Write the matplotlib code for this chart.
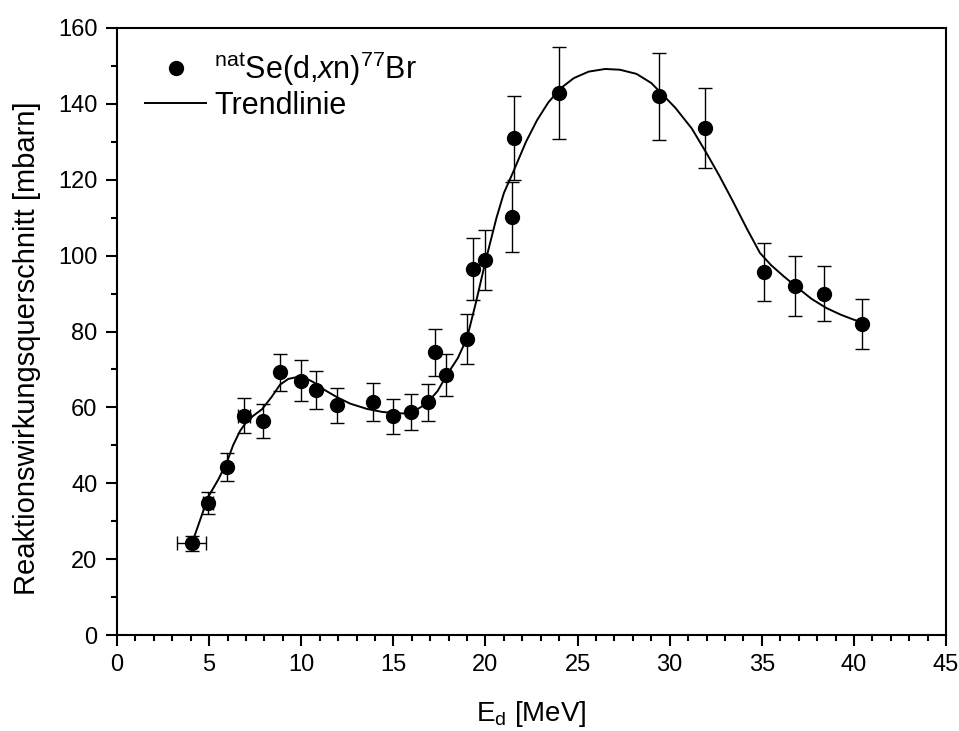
import matplotlib.pyplot as plt
from matplotlib.ticker import MultipleLocator
from matplotlib.lines import Line2D

plt.rcParams['font.family'] = ['Liberation Sans', 'DejaVu Sans']
plt.rcParams['mathtext.fontset'] = 'custom'
plt.rcParams['mathtext.rm'] = 'Liberation Sans'
plt.rcParams['mathtext.it'] = 'Liberation Sans:italic'

# Messpunkte
energie = [4.05, 4.95, 5.97, 6.88, 7.93, 8.85, 9.99, 10.8, 11.94, 13.9, 14.98, 15.96,
           16.88, 17.26, 17.86, 19.0, 19.33, 19.98, 21.44, 21.55, 24.0, 29.4, 31.9,
           35.1, 36.8, 38.4, 40.45]
wq = [24.2, 34.8, 44.3, 57.8, 56.5, 69.2, 67.0, 64.5, 60.6, 61.5, 57.6, 58.8,
      61.3, 74.5, 68.5, 78.0, 96.5, 98.8, 110.2, 131.0, 142.9, 142.0, 133.6,
      95.6, 92.0, 90.0, 82.1]
wq_fehler = [2.0, 2.8, 3.8, 4.6, 4.5, 4.8, 5.4, 5.0, 4.6, 5.0, 4.7, 4.7,
             4.9, 6.1, 5.5, 6.6, 8.1, 7.9, 9.2, 11.0, 12.1, 11.5, 10.6,
             7.6, 7.8, 7.2, 6.6]
energie_fehler = [0.8, 0.27, 0, 0.33, 0, 0, 0, 0, 0, 0, 0, 0,
                  0, 0, 0, 0, 0, 0, 0, 0, 0, 0, 0,
                  0, 0, 0, 0]

# Trendlinie
trend_x = [4.07, 4.95, 5.5, 5.97, 6.3, 6.68, 7.0, 7.4, 7.87, 8.4, 8.85, 9.3, 9.77, 10.2, 10.64, 11.3,
           11.94, 12.65, 13.57, 14.4, 15.1, 15.6, 16.2, 16.8, 17.4, 17.9, 18.5, 19.0,
           19.5, 20.0, 20.6, 21.0, 21.5, 22.2, 22.8, 23.4, 24.05, 24.8, 25.6, 26.5,
           27.3, 28.2, 29.0, 29.5, 30.3, 31.2, 32.0, 32.7, 33.4, 34.2, 34.9, 35.5,
           36.2, 36.9, 37.7, 38.5, 39.3, 40.0, 40.45]
trend_y = [24.2, 36.4, 41.0, 45.6, 50.0, 53.8, 56.0, 57.8, 59.5, 62.8, 66.0, 67.5, 68.0, 67.8, 66.7, 64.5,
           62.7, 61.0, 59.6, 58.8, 58.5, 58.4, 59.2, 61.0, 64.3, 68.5, 73.0, 78.3,
           88.0, 98.5, 110.0, 116.5, 122.0, 130.0, 135.7, 140.3, 144.0, 146.8, 148.5, 149.2,
           149.0, 147.9, 145.5, 143.0, 139.0, 133.5, 127.0, 121.0, 114.6, 107.0, 100.7, 97.5,
           94.5, 91.7, 88.6, 86.2, 84.4, 83.1, 82.4]

fig = plt.figure(figsize=(9.59, 7.31), dpi=100)
ax = fig.add_axes([0.122, 0.1313, 0.8645, 0.8304])

ax.errorbar(energie, wq, yerr=wq_fehler, xerr=energie_fehler, fmt='o', color='black',
            ecolor='black', elinewidth=1.0, capsize=5, capthick=1.0, markersize=10,
            zorder=3)
ax.plot(trend_x, trend_y, color='black', linewidth=1.4, zorder=2)

ax.set_xlim(0, 45)
ax.set_ylim(0, 160)
ax.xaxis.set_major_locator(MultipleLocator(5))
ax.xaxis.set_minor_locator(MultipleLocator(1))
ax.yaxis.set_major_locator(MultipleLocator(20))
ax.yaxis.set_minor_locator(MultipleLocator(10))
ax.tick_params(which='major', direction='out', length=8, width=1.5, labelsize=17, pad=6)
ax.tick_params(which='minor', direction='out', length=4, width=1.5)
for s in ax.spines.values():
    s.set_linewidth(1.5)

ax.set_xlabel(r'E$_\mathrm{d}$ [MeV]', fontsize=20, labelpad=16)
ax.set_ylabel('Reaktionswirkungsquerschnitt [mbarn]', fontsize=21, labelpad=12, y=0.472)

handles = [Line2D([], [], marker='o', color='black', linestyle='none', markersize=10),
           Line2D([], [], color='black', linewidth=1.4)]
labels = [r'$^{\mathrm{nat}}$Se(d,$x$n)$^{77}$Br', 'Trendlinie']
ax.legend(handles, labels, loc='upper left', bbox_to_anchor=(0.034, 0.965), frameon=False,
          fontsize=22, handlelength=2.0, borderaxespad=0, borderpad=0,
          handletextpad=0.25, labelspacing=0.1)

fig.savefig('out.png', dpi=100)
